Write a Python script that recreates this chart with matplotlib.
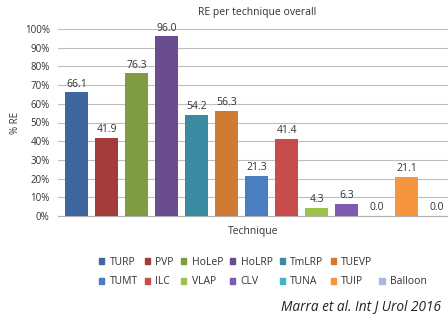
import matplotlib
matplotlib.use("Agg")
import matplotlib.pyplot as plt
from matplotlib.patches import Patch

plt.rcParams['font.family'] = ['Open Sans', 'DejaVu Sans']

techniques = ['TURP', 'PVP', 'HoLeP', 'HoLRP', 'TmLRP', 'TUEVP', 'TUMT',
              'ILC', 'VLAP', 'CLV', 'TUNA', 'TUIP', 'Balloon']
re_values = [66.1, 41.9, 76.3, 96.0, 54.2, 56.3, 21.3, 41.4, 4.3, 6.3, 0.0, 21.1, 0.0]
colors = ['#3E679F', '#A23C3A', '#7F9C43', '#694D8E', '#3A8BA2', '#D07A34',
          '#4A7DC1', '#C84C4C', '#9CC24B', '#7D5BAE', '#40B3CB', '#F5953F', '#A9B8DE']
yticks = [0, 10, 20, 30, 40, 50, 60, 70, 80, 90, 100]

fig = plt.figure(figsize=(4.48, 3.2), dpi=100)
ax = fig.add_axes([58 / 448, 1 - 216 / 320, 1 - 58 / 448, (216 - 29) / 320])

xs = list(range(len(techniques)))
bars = ax.bar(xs, re_values, width=0.77, color=colors, zorder=3)
ax.bar_label(bars, labels=['%.1f' % v for v in re_values], padding=2,
             fontsize=7.5, color='#333333')

ax.set_xlim(-0.63, 12.37)
ax.set_ylim(0, 100)
ax.set_yticks(yticks)
ax.set_yticklabels(['%d%%' % t for t in yticks], fontsize=7, color='#333333')
ax.set_xticks([])
ax.tick_params(axis='y', length=0, pad=6)
ax.grid(axis='y', color='#BEBEBE', linewidth=0.8, zorder=0)
for s in ['top', 'right', 'left']:
    ax.spines[s].set_visible(False)
ax.spines['bottom'].set_color('#B0B0B0')

ax.set_ylabel('% RE', fontsize=7, color='#333333', labelpad=3)
ax.set_xlabel('Technique', fontsize=7.5, color='#333333', labelpad=7)
fig.text(257 / 448, 1 - 12 / 320, 'RE per technique overall', ha='center',
         va='center', fontsize=7.5, color='#333333')

# legend: two rows, column-major ordering for ncol=7
handles = [Patch(color=c, label=t) for t, c in zip(techniques, colors)]
blank = Patch(color='none', label='')
order = [0, 6, 1, 7, 2, 8, 3, 9, 4, 10, 5, 11]
leg_handles = [handles[i] for i in order] + [blank, handles[12]]
fig.legend(handles=leg_handles, labels=[h.get_label() for h in leg_handles],
           ncol=7, loc='center', bbox_to_anchor=(263 / 448, 1 - 272 / 320),
           frameon=False, fontsize=7.5, handlelength=0.5, handleheight=0.5,
           handletextpad=0.5, columnspacing=0.7, labelspacing=0.85,
           labelcolor='#333333')

fig.text(441 / 448, 1 - 307 / 320, 'Marra et al. Int J Urol 2016', ha='right',
         va='center', fontsize=9.8, style='italic', color='#222222')

fig.savefig('out.png', dpi=100)
